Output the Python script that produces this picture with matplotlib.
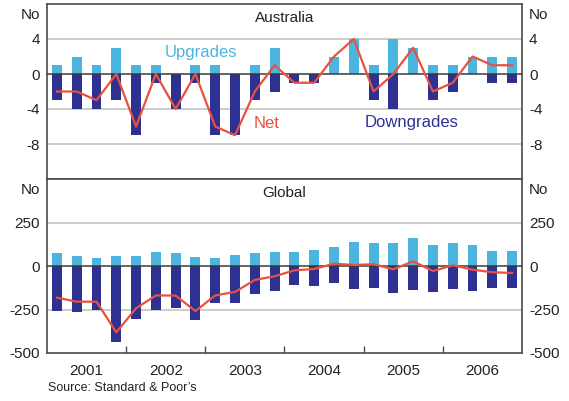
import matplotlib
matplotlib.use("Agg")
import matplotlib.pyplot as plt
import numpy as np

plt.rcParams['font.family'] = ['Liberation Sans', 'DejaVu Sans']
plt.rcParams['axes.unicode_minus'] = False

years = ['2001', '2002', '2003', '2004', '2005', '2006']

# Australia: quarterly rating changes (number)
aus_up = [1, 2, 1, 3, 1, 1, 0, 1, 1, 0, 1, 3,
          0, 0, 2, 4, 1, 4, 3, 1, 1, 2, 2, 2]
aus_down = [-3, -4, -4, -3, -7, -1, -4, -1, -7, -7, -3, -2,
            -1, -1, 0, 0, -3, -4, 0, -3, -2, 0, -1, -1]
aus_net = [-2, -2, -3, 0, -6, 0, -4, 0, -6, -7, -2, 1,
           -1, -1, 2, 4, -2, 0, 3, -2, -1, 2, 1, 1]

# Global: quarterly rating changes (number)
glb_up = [75, 57, 46, 57, 57, 80, 75, 52, 46, 63, 75, 80,
          80, 92, 109, 138, 132, 132, 161, 121, 132, 121, 86, 86]
glb_down = [-259, -264, -251, -437, -305, -253, -241, -310, -213, -213, -161, -144,
            -109, -115, -98, -132, -126, -155, -138, -149, -132, -144, -126, -126]
glb_net = [-182, -205, -205, -381, -243, -169, -170, -259, -169, -149, -80, -59,
           -25, -17, 13, 6, 10, -19, 27, -29, 4, -21, -36, -40]

C_UP = '#4cb5df'
C_DOWN = '#2e3192'
C_NET = '#e8513f'
C_GRID = '#c8c8c8'
C_FRAME = '#4a4a4a'

W, H = 569, 401
fig = plt.figure(figsize=(W / 100, H / 100), dpi=100)

left, right = 47 / W, 522 / W
y_top, y_mid, y_bot = 4, 179, 353
ax1 = fig.add_axes([left, 1 - y_mid / H, right - left, (y_mid - y_top) / H])
ax2 = fig.add_axes([left, 1 - y_bot / H, right - left, (y_bot - y_mid) / H])

x = np.arange(len(aus_up))
bw = 0.5


def style(ax, ylim, gridvals, ticks, ticklabels):
    ax.set_xlim(-0.5, len(x) - 0.5)
    ax.set_ylim(*ylim)
    for g in gridvals:
        ax.axhline(g, color=C_GRID, lw=1.3, zorder=0)
    ax.axhline(0, color='#3a3a3a', lw=1.1, zorder=3)
    for s in ax.spines.values():
        s.set_color(C_FRAME)
        s.set_linewidth(1.2)
    ax.set_yticks(ticks)
    ax.set_yticklabels(ticklabels)
    ax.tick_params(axis='y', length=0, pad=5, labelsize=11, colors='#222222',
                   labelleft=True, labelright=True)
    ax.text(-0.015, 0.975, 'No', transform=ax.transAxes, ha='right', va='top',
            fontsize=11, color='#222222')
    ax.text(1.015, 0.975, 'No', transform=ax.transAxes, ha='left', va='top',
            fontsize=11, color='#222222')


# Australia panel
ax1.bar(x, aus_up, width=bw, color=C_UP, zorder=2)
ax1.bar(x, aus_down, width=bw, color=C_DOWN, zorder=2)
ax1.plot(x, aus_net, color=C_NET, lw=1.6, zorder=4)
style(ax1, (-12, 8), [4, -4, -8], [4, 0, -4, -8], ['4', '0', '-4', '-8'])
ax1.set_xticks([])
ax1.text(0.5, 0.92, 'Australia', transform=ax1.transAxes, ha='center', va='center',
         fontsize=11, color='#222222')
ax1.text(7.3, 2.5, 'Upgrades', ha='center', va='center', fontsize=12, color=C_UP)
ax1.text(10.6, -5.7, 'Net', ha='center', va='center', fontsize=12, color=C_NET)
ax1.text(17.9, -5.6, 'Downgrades', ha='center', va='center', fontsize=12, color=C_DOWN)

# Global panel
ax2.bar(x, glb_up, width=bw, color=C_UP, zorder=2)
ax2.bar(x, glb_down, width=bw, color=C_DOWN, zorder=2)
ax2.plot(x, glb_net, color=C_NET, lw=1.6, zorder=4)
style(ax2, (-500, 500), [250, -250], [250, 0, -250, -500], ['250', '0', '-250', '-500'])
ax2.text(0.5, 0.92, 'Global', transform=ax2.transAxes, ha='center', va='center',
         fontsize=11, color='#222222')

# year boundary ticks and year labels
ax2.set_xticks(np.arange(3.5, len(x) - 1, 4))
ax2.set_xticklabels([])
ax2.tick_params(axis='x', direction='in', length=5, width=1, color=C_FRAME)
for i, yr in enumerate(years):
    ax2.text(4 * i + 1.5, -0.065, yr, transform=ax2.get_xaxis_transform(),
             ha='center', va='top', fontsize=11, color='#222222')

fig.text(48 / W, 1 - 388 / H, "Source: Standard & Poor\u2019s", ha='left', va='center',
         fontsize=9, color='#222222')

fig.savefig('out.png', dpi=100)
